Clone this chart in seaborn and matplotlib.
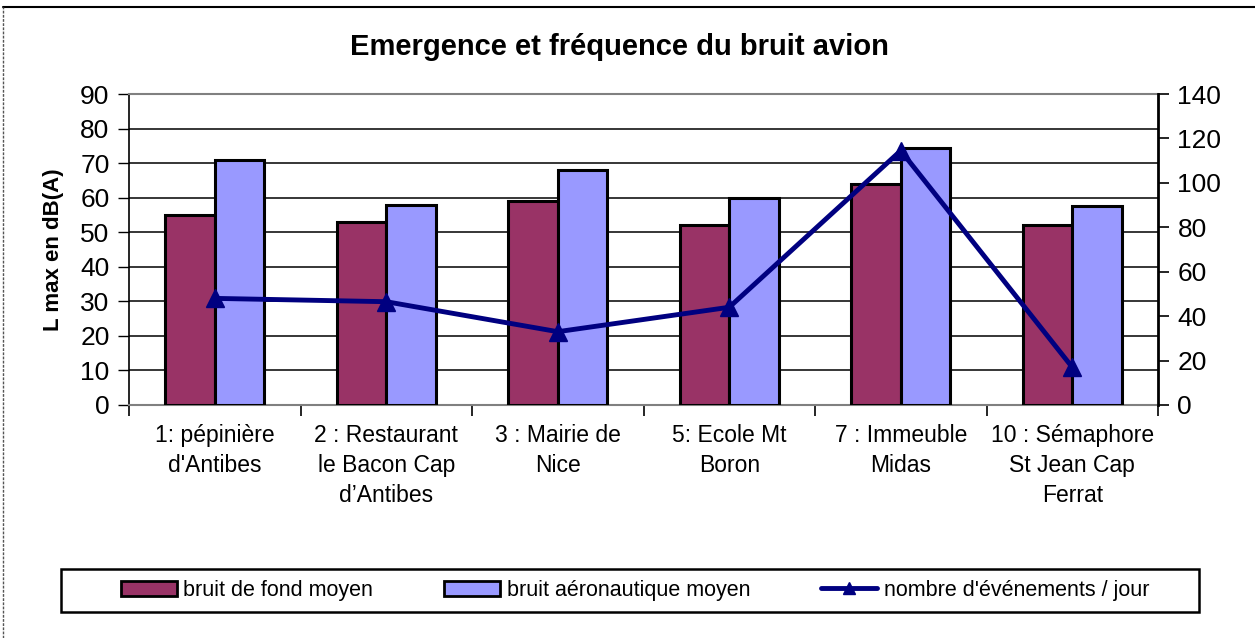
import numpy as np
import pandas as pd
import matplotlib
matplotlib.use("Agg")
import matplotlib.pyplot as plt
from matplotlib.patches import Rectangle
from matplotlib.lines import Line2D
from matplotlib.patches import Patch
import seaborn as sns

categories = ["1: pépinière\nd'Antibes",
              "2 : Restaurant\nle Bacon Cap\nd\u2019Antibes",
              "3 : Mairie de\nNice",
              "5: Ecole Mt\nBoron",
              "7 : Immeuble\nMidas",
              "10 : Sémaphore\nSt Jean Cap\nFerrat"]
bruit_fond = [55, 53, 59, 52, 64, 52]
bruit_aero = [71, 58, 68, 60, 74.5, 57.5]
evenements = [48, 46.5, 33, 44, 114.5, 17]
series_names = ["bruit de fond moyen", "bruit aéronautique moyen", "nombre d'événements / jour"]
title = "Emergence et fréquence du bruit avion"
ylabel = "L max en dB(A)"

sns.set_theme(style="white")
plt.rcParams['font.family'] = ['Liberation Sans', 'DejaVu Sans']
plt.rcParams['text.color'] = 'black'
plt.rcParams['axes.labelcolor'] = 'black'
plt.rcParams['xtick.color'] = 'black'
plt.rcParams['ytick.color'] = 'black'

df = pd.DataFrame({
    "site": categories * 2,
    "value": bruit_fond + bruit_aero,
    "serie": [series_names[0]] * 6 + [series_names[1]] * 6,
})

fig = plt.figure(figsize=(12.55, 6.38), dpi=100)
ax = fig.add_axes([129 / 1255, 1 - 405 / 638, (1158 - 129) / 1255, (405 - 94) / 638])

colors = ["#993366", "#9999FF"]
sns.barplot(data=df, x="site", y="value", hue="serie", palette=colors,
            width=0.58, gap=0, edgecolor="black", linewidth=2.2,
            saturation=1, ax=ax, legend=False, zorder=3)

ax.set_ylim(0, 90)
ax.set_xlim(-0.5, 5.5)
ax.set_yticks(np.arange(0, 91, 10))
ax.yaxis.grid(True, color="black", linewidth=1.1, zorder=0)
ax.set_axisbelow(True)
ax.set_xlabel("")
ax.set_ylabel(ylabel, fontsize=16, fontweight="bold", labelpad=12)
ax.tick_params(axis="y", labelsize=19, length=8, width=1, direction="out",
               left=True, color="black", pad=6)
ax.set_xticks(range(6))
ax.set_xticklabels(categories, fontsize=16.5, linespacing=1.37, va="top")
ax.tick_params(axis="x", which="major", length=0, pad=14)
ax.set_xticks(np.arange(-0.5, 6, 1), minor=True)
ax.tick_params(axis="x", which="minor", length=8, width=1.2, direction="out",
               bottom=True, color="black")
for s in ["top", "bottom"]:
    ax.spines[s].set_color("#808080")
    ax.spines[s].set_linewidth(1.5)
ax.spines["left"].set_color("black")
ax.spines["left"].set_linewidth(1.2)
ax.spines["right"].set_visible(False)

ax2 = ax.twinx()
ax2.plot(np.arange(len(evenements)), evenements, color="#000080", linewidth=3.5,
         marker="^", markersize=13, zorder=5)
ax2.set_ylim(0, 140)
ax2.set_yticks(np.arange(0, 141, 20))
ax2.tick_params(axis="y", labelsize=19, length=8, width=1.2, direction="out",
                right=True, color="black", pad=6)
for s in ["top", "bottom", "left"]:
    ax2.spines[s].set_visible(False)
ax2.spines["right"].set_color("black")
ax2.spines["right"].set_linewidth(2)
ax2.grid(False)

fig.text(619 / 1255, 1 - 47 / 638, title, ha="center", va="center",
         fontsize=21, fontweight="bold")

# legend box
fig.patches.append(Rectangle((61 / 1255, 1 - 612 / 638), (1199 - 61) / 1255, 43 / 638,
                             transform=fig.transFigure, fill=False,
                             edgecolor="black", linewidth=1.8))
handles = [Patch(facecolor=colors[0], edgecolor="black", linewidth=2),
           Patch(facecolor=colors[1], edgecolor="black", linewidth=2),
           Line2D([], [], color="#000080", linewidth=3.5, marker="^", markersize=9)]
fig.legend(handles, series_names, loc="center", ncol=3,
           bbox_to_anchor=(635 / 1255, 1 - 590.5 / 638), frameon=False,
           fontsize=15.5, handlelength=2.6, handleheight=0.7,
           handletextpad=0.3, columnspacing=3.3)

# outer border (top and left)
fig.lines.append(Line2D([3 / 1255, 1], [1 - 7 / 638, 1 - 7 / 638], transform=fig.transFigure,
                        color="black", linewidth=1.5))
fig.lines.append(Line2D([3 / 1255, 3 / 1255], [0, 1 - 7 / 638], transform=fig.transFigure,
                        color="#555555", linewidth=1, linestyle=(0, (2, 1))))

fig.savefig("out.png", dpi=100)
